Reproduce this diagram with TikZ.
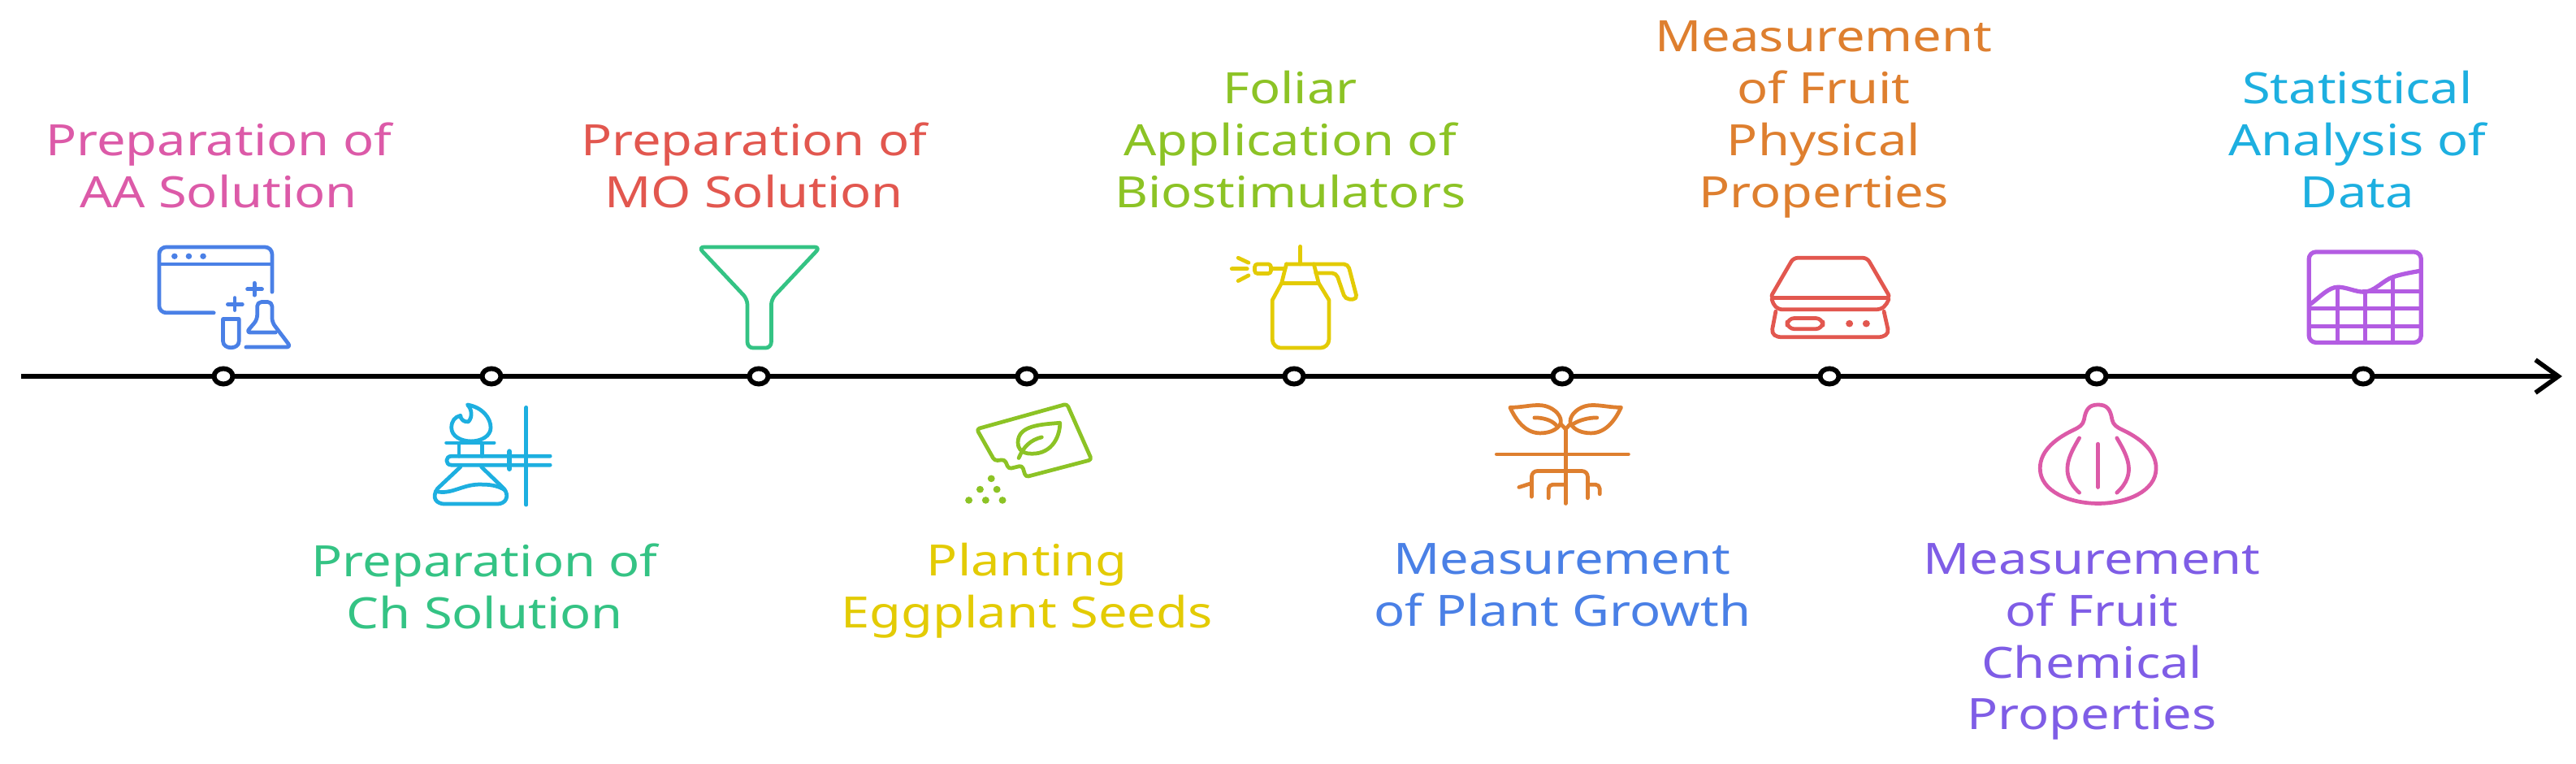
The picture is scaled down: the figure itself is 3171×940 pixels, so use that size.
\documentclass[tikz,border=0pt]{standalone}
\usepackage{fontspec}
\setmainfont{Noto Sans}
\usetikzlibrary{positioning,shapes.geometric,arrows.meta}
\definecolor{cpink}{HTML}{DC5AA8}
\definecolor{cgreen}{HTML}{34C384}
\definecolor{cred}{HTML}{E2574F}
\definecolor{clime}{HTML}{8CC325}
\definecolor{cyellow}{HTML}{E3CB04}
\definecolor{corange}{HTML}{DE7F2F}
\definecolor{cblue}{HTML}{4A80E6}
\definecolor{cviolet}{HTML}{7F5DE6}
\definecolor{ccyan}{HTML}{1DAFE0}
\definecolor{cpurple}{HTML}{B35CE2}
\tikzset{
  dotnode/.style={draw=black,line width=1.7pt,fill=white,ellipse,inner sep=0pt,minimum width=2.3mm,minimum height=1.9mm},
  lbl/.style={inner sep=0pt,outer sep=0pt,align=center,xscale=1.19,transform shape,
    font=\fontsize{15.1}{18.15}\selectfont,execute at begin node=\strut,execute at end node=\strut},
  icn/.style={line width=1.35pt,line cap=round,line join=round},
  zoomA/.style={x=.003444cm,y=-.003333cm},
  zoomB/.style={x=.003333cm,y=-.003333cm}
}
\begin{document}
\begin{tikzpicture}[x=.01cm,y=-.01cm]
\useasboundingbox (0,0) rectangle (3171,940);
\coordinate (axisstart) at (26,463);
\coordinate (axistip) at (3154,463);
\draw[line width=1.6pt,-{Straight Barb[length=8pt,width=11.5pt,line width=1.6pt]}] (axisstart) -- (axistip);
% ticks on the axis
\node[dotnode] (t1) at (275,463) {};
\node[dotnode] (t2) at (605,463) {};
\node[dotnode] (t3) at (934,463) {};
\node[dotnode] (t4) at (1264,463) {};
\node[dotnode] (t5) at (1593,463) {};
\node[dotnode] (t6) at (1923,463) {};
\node[dotnode] (t7) at (2252,463) {};
\node[dotnode] (t8) at (2581,463) {};
\node[dotnode] (t9) at (2909,463) {};
% labels
\node[lbl,cpink,above=17.6mm of t1,xshift=-.5mm] (l1) {Preparation of\\AA Solution};
\node[lbl,cgreen,below=19.3mm of t2,xshift=-.7mm] (l2) {Preparation of\\Ch Solution};
\node[lbl,cred,above=17.6mm of t3,xshift=-.5mm] (l3) {Preparation of\\MO Solution};
\node[lbl,cyellow,below=19.3mm of t4] (l4) {Planting\\Eggplant Seeds};
\node[lbl,clime,above=17.6mm of t5,xshift=-.4mm] (l5) {Foliar\\Application of\\Biostimulators};
\node[lbl,cblue,below=19.3mm of t6] (l6) {Measurement\\of Plant Growth};
\node[lbl,corange,above=17.6mm of t7,xshift=-.6mm] (l7) {Measurement\\of Fruit\\Physical\\Properties};
\node[lbl,cviolet,below=19.3mm of t8,xshift=-.5mm] (l8) {Measurement\\of Fruit\\Chemical\\Properties};
\node[lbl,ccyan,above=17.6mm of t9,xshift=-.6mm] (l9) {Statistical\\Analysis of\\Data};
% window and flask
\begin{scope}[shift={(170,280)},zoomA,icn,cblue]
  \draw[rounded corners=2.5pt] (478,238) -- (478,72) -- (75,72) -- (75,315) -- (270,315);
  \draw (78,135) -- (472,135);
  \foreach \px in {130,181,232} \fill (\px,106) circle (11);
  \draw (415,205) -- (415,250) (390,228) -- (442,228);
  \draw (345,260) -- (345,305) (320,284) -- (372,284);
  \draw (303,338) -- (360,338) -- (360,420) .. controls (360,452) and (303,452) .. (303,420) -- cycle;
  \draw[rounded corners=1.5pt] (385,442) -- (545,442) -- (478,350) -- (478,275) -- (425,275) -- (425,340) -- (386,388) -- (490,388);
\end{scope}
% burner and stand
\begin{scope}[shift={(170,280)},zoomA,icn,ccyan]
  \draw (1385,665) -- (1385,1025);
  \draw (1470,845) -- (1118,845) .. controls (1095,845) and (1095,878) .. (1118,878) -- (1470,878);
  \draw[line width=1.8pt] (1325,828) -- (1325,892);
  \draw (1100,796) -- (1270,796) (1145,800) -- (1145,845) (1228,800) -- (1228,845);
  \draw (1175,655) .. controls (1230,665) and (1258,705) .. (1258,740) .. controls (1258,770) and (1225,790) .. (1188,790) .. controls (1150,790) and (1118,770) .. (1118,740) .. controls (1118,715) and (1130,700) .. (1150,695) .. controls (1150,710) and (1165,720) .. (1178,718) .. controls (1195,700) and (1190,670) .. (1175,655) -- cycle;
  \draw (1150,885) -- (1068,965) .. controls (1045,1000) and (1065,1022) .. (1095,1022) -- (1280,1022) .. controls (1315,1022) and (1325,990) .. (1305,965) -- (1225,885);
  \draw (1062,975) .. controls (1120,990) and (1160,945) .. (1230,950) .. controls (1265,950) and (1290,958) .. (1308,970);
\end{scope}
% funnel
\begin{scope}[shift={(820,280)},zoomA,icn,cgreen]
  \draw[rounded corners=2pt] (115,72) -- (550,72) -- (375,265) -- (375,445) -- (290,445) -- (290,265) -- cycle;
\end{scope}
% seed packet
\begin{scope}[shift={(820,280)},zoomA,icn,clime]
  \draw[rounded corners=1pt] (1108,745) -- (1430,652) -- (1518,858) -- (1283,922) -- (1270,880) -- (1222,892) -- (1208,858) -- (1172,862) -- cycle;
  \draw (1405,722) .. controls (1340,728) and (1255,730) .. (1255,795) .. controls (1255,815) and (1265,830) .. (1290,835) .. controls (1370,845) and (1405,780) .. cycle;
  \draw (1258,852) .. controls (1275,810) and (1300,785) .. (1340,775);
  \foreach \px/\py in {1160/928,1120/968,1180/968,1080/1008,1140/1008,1200/1008} \fill (\px,\py) circle (13);
\end{scope}
% sprayer
\begin{scope}[shift={(1480,280)},zoomA,icn,cyellow]
  \draw (350,70) -- (350,135);
  \draw[rounded corners=1.5pt] (300,135) -- (520,135) -- (553,265) -- (510,265) -- (478,168) -- (405,168);
  \draw (300,135) -- (283,205) -- (250,268) [rounded corners=3pt] -- (250,445) -- (452,445) [sharp corners] -- (452,268) -- (415,205) -- (398,135);
  \draw (285,205) -- (415,205);
  \draw[rounded corners=1pt] (187,135) -- (245,135) -- (245,170) -- (187,170) -- cycle;
  \draw (245,152) -- (295,152);
  \draw (105,152) -- (160,152) (128,112) -- (165,130) (128,197) -- (165,177);
\end{scope}
% seedling
\begin{scope}[shift={(1480,280)},zoomA,icn,corange]
  \draw (1296,745) -- (1296,1020) (1050,838) -- (1520,838);
  \draw (1098,665) .. controls (1150,665) and (1190,650) .. (1225,660) .. controls (1260,670) and (1285,700) .. (1278,725) .. controls (1265,750) and (1235,760) .. (1205,760) .. controls (1155,760) and (1120,715) .. cycle;
  \draw (1494,665) .. controls (1442,665) and (1402,650) .. (1367,660) .. controls (1332,670) and (1307,700) .. (1314,725) .. controls (1327,750) and (1357,760) .. (1387,760) .. controls (1437,760) and (1472,715) .. cycle;
  \draw (1278,725) -- (1296,745) -- (1314,725);
  \draw (1185,703) .. controls (1210,702) and (1245,710) .. (1262,730);
  \draw (1408,703) .. controls (1380,702) and (1345,712) .. (1325,725);
  \draw[rounded corners=2pt] (1175,995) -- (1175,900) -- (1375,900) -- (1375,1000);
  \draw (1130,960) -- (1175,945);
  \draw[rounded corners=1.5pt] (1375,950) -- (1418,950) -- (1418,985);
  \draw[rounded corners=1.5pt] (1235,1000) -- (1235,950) -- (1296,950);
\end{scope}
% kitchen scale
\begin{scope}[shift={(2130,280)},zoomA,icn,cred]
  \draw[rounded corners=1.5pt] (142,260) -- (225,112) -- (488,112) -- (571,260) -- cycle;
  \draw (148,265) .. controls (155,290) and (165,303) .. (190,303) -- (515,303) .. controls (545,303) and (555,290) .. (565,265);
  \draw (162,310) -- (150,375) .. controls (148,395) and (160,405) .. (185,405) -- (525,405) .. controls (550,405) and (565,395) .. (562,375) -- (548,310);
  \draw[rounded corners=2.5pt] (203,335) rectangle (330,375);
  \fill (425,355) circle (13) (485,355) circle (13);
\end{scope}
% onion
\begin{scope}[shift={(2130,280)},zoomA,icn,cpink]
  \draw (1312,655) .. controls (1280,655) and (1268,672) .. (1262,710) .. controls (1258,730) and (1245,738) .. (1225,748) .. controls (1170,775) and (1105,820) .. (1105,890) .. controls (1105,975) and (1210,1020) .. (1312,1020) .. controls (1414,1020) and (1519,975) .. (1519,890) .. controls (1519,820) and (1454,775) .. (1399,748) .. controls (1379,738) and (1366,730) .. (1362,710) .. controls (1356,672) and (1344,655) .. (1312,655) -- cycle;
  \draw (1312,800) -- (1312,960);
  \draw (1245,778) .. controls (1210,840) and (1170,910) .. (1245,980);
  \draw (1379,778) .. controls (1414,840) and (1454,910) .. (1379,980);
\end{scope}
% chart
\begin{scope}[shift={(2760,280)},zoomB,icn,cpurple,line width=1.5pt]
  \draw[rounded corners=2.5pt] (247,90) rectangle (662,425);
  \draw (250,298) -- (660,298) (250,365) -- (660,365) (450,235) -- (660,235);
  \draw (352,225) -- (352,425) (455,240) -- (455,425) (558,185) -- (558,425);
  \draw (250,285) .. controls (290,255) and (320,220) .. (355,220) .. controls (385,220) and (420,238) .. (450,238) .. controls (490,238) and (520,195) .. (560,182) .. controls (590,172) and (630,165) .. (660,160);
\end{scope}
\end{tikzpicture}
\end{document}
